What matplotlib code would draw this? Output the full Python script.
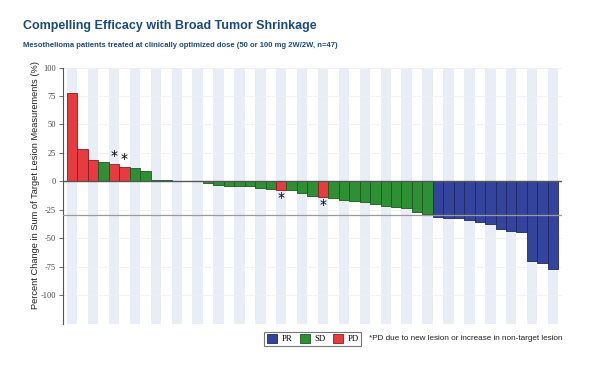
# waterfall plot: best % change in target lesions per patient
import numpy as np
import matplotlib.pyplot as plt
from matplotlib.patches import Patch

# 환자별 값 (왼쪽 -> 오른쪽)
values = [78, 28, 19, 17, 15.5, 13, 12, 9, 1.5, 1, 0, 0, 0,
          -1.5, -3, -4.4, -4.4, -4.4, -5.6, -6.5, -7.4, -8, -10, -12.6, -13.5,
          -14.7, -16, -17.4, -18.5, -20, -21.5, -22.6, -23.8, -27, -28.5,
          -31, -32, -32, -34, -35.5, -37.5, -41.5, -43.5, -44.5, -70, -71.5, -77]
response = (["PD", "PD", "PD", "SD", "PD", "PD", "SD", "SD", "SD", "SD", "SD", "SD", "SD"]
            + ["SD"] * 7 + ["PD"] + ["SD"] * 3 + ["PD"] + ["SD"] * 10
            + ["PR"] * 12)
starred = [4, 5, 20, 24]  # PD due to new lesion
yticks = [100, 75, 50, 25, 0, -25, -50, -75, -100]

colors = {"PR": "#34449c", "SD": "#2f8f35", "PD": "#e63b40"}
edges = {"PR": "#1d2866", "SD": "#1a5a1f", "PD": "#8a1a1d"}

SANS = ["Liberation Sans", "DejaVu Sans"]
SERIF = "Liberation Serif"

fig = plt.figure(figsize=(6, 3.65), dpi=100)
ax = fig.add_axes([0.105, 0.112, 0.832, 0.703])

x = np.arange(len(values))
ylo, yhi = -125.5, 100

# 배경 줄무늬
for i in x[::2]:
    ax.axvspan(i - 0.5, i + 0.5, color="#e9edf6", zorder=0, lw=0)

for yv in yticks:
    ax.axhline(yv, color="#f0f0f0", lw=0.6, zorder=0.5)

ax.bar(x, values, width=1.0,
       color=[colors[r] for r in response],
       edgecolor=[edges[r] for r in response], linewidth=0.6, zorder=2)

ax.axhline(0, color="#555555", lw=1.0, zorder=3)
ax.axhline(-30, color="#9a9a9a", lw=0.9, zorder=3)

for i in starred:
    v = values[i]
    if v >= 0:
        ax.text(i, v + 0.5, "*", ha="center", va="bottom", fontsize=10, zorder=4)
    else:
        ax.text(i, v - 1.5, "*", ha="center", va="top", fontsize=10, zorder=4)

ax.set_xlim(-0.885, len(values) - 0.12)
ax.set_ylim(ylo, yhi)
ax.set_yticks(yticks)
ax.set_yticklabels([str(t) for t in yticks], family=SERIF,
                   fontsize=6, color="#444444")
ax.tick_params(axis="y", length=3, width=0.6, color="#555555", pad=2)
ax.set_xticks([])
for s in ["top", "right", "bottom"]:
    ax.spines[s].set_visible(False)
ax.spines["left"].set_color("#555555")
ax.spines["left"].set_linewidth(0.8)

ax.set_ylabel("Percent Change in Sum of Target Lesion Measurements (%)",
              family=SANS, fontsize=6.65, color="#222222")
ax.yaxis.set_label_coords(-0.046, 0.542)

fig.text(0.038, 0.929, "Compelling Efficacy with Broad Tumor Shrinkage",
         family=SANS, fontweight="bold",
         fontsize=9.0, color="#1b4a7c", va="center")
fig.text(0.038, 0.874,
         "Mesothelioma patients treated at clinically optimized dose (50 or 100 mg 2W/2W, n=47)",
         family=SANS, fontweight="bold",
         fontsize=5.5, color="#1b4a7c", va="center")

handles = [Patch(facecolor=colors[k], edgecolor=edges[k], lw=0.6, label=k)
           for k in ["PR", "SD", "PD"]]
leg = fig.legend(handles=handles, loc="center", bbox_to_anchor=(0.5215, 0.072),
                 ncol=3, frameon=True, fancybox=False, handlelength=1.2,
                 handleheight=1.1, handletextpad=0.5, columnspacing=0.8,
                 borderpad=0.3, prop={"family": SERIF, "size": 6.3})
leg.get_frame().set_edgecolor("#555555")
leg.get_frame().set_linewidth(0.8)

fig.text(0.615, 0.072, "*PD due to new lesion or increase in non-target lesion",
         family=SANS, fontsize=5.9, color="#222222", va="center")

fig.savefig("out.png", dpi=100)
